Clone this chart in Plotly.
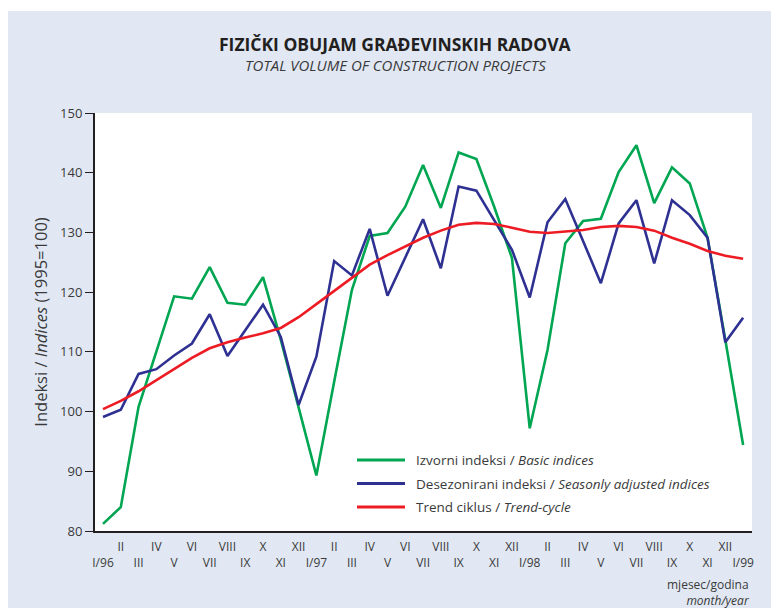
import plotly.graph_objects as go

months = ["I/96", "II", "III", "IV", "V", "VI", "VII", "VIII", "IX", "X", "XI", "XII",
          "I/97", "II", "III", "IV", "V", "VI", "VII", "VIII", "IX", "X", "XI", "XII",
          "I/98", "II", "III", "IV", "V", "VI", "VII", "VIII", "IX", "X", "XI", "XII",
          "I/99"]

basic = [81.2, 84.0, 100.8, 110.0, 119.3, 118.9, 124.2, 118.2, 117.9, 122.5, 112.0, 100.7,
         89.3, 105.0, 120.4, 129.4, 129.9, 134.3, 141.3, 134.1, 143.4, 142.3, 134.3, 125.7,
         97.2, 110.3, 128.2, 131.9, 132.3, 140.1, 144.6, 134.9, 140.9, 138.2, 129.1, 112.0,
         94.4]

adjusted = [99.1, 100.3, 106.3, 107.1, 109.4, 111.4, 116.3, 109.3, 113.6, 117.9, 112.5, 101.1,
            109.2, 125.2, 122.8, 130.6, 119.4, 125.9, 132.2, 124.0, 137.7, 137.0, 132.0, 127.1,
            119.1, 131.7, 135.6, 128.7, 121.5, 131.5, 135.4, 124.8, 135.4, 132.9, 129.1, 111.6,
            115.7]

trend = [100.4, 101.8, 103.4, 105.3, 107.1, 109.0, 110.6, 111.6, 112.4, 113.1, 114.0, 115.8,
         118.0, 120.2, 122.5, 124.6, 126.2, 127.6, 129.1, 130.3, 131.3, 131.6, 131.4, 130.8,
         130.1, 129.9, 130.1, 130.4, 130.9, 131.1, 130.9, 130.3, 129.1, 128.1, 126.9, 126.1,
         125.6]

y_ticks = [80, 90, 100, 110, 120, 130, 140, 150]

series_names = ["Izvorni indeksi / <i>Basic indices</i>",
                "Desezonirani indeksi / <i>Seasonly adjusted indices</i>",
                "Trend ciklus / <i>Trend-cycle</i>"]
series_colors = ["#00A651", "#2E3192", "#ED1C24"]

FONT = "Open Sans"
TXT = "#3a3a3a"
BG = "#E1E8F4"

x_idx = list(range(len(months)))
# alternate labels between two rows
tick_text = [("<br>" + m) if i % 2 == 0 else m for i, m in enumerate(months)]

fig = go.Figure()
for vals, name, col in zip([basic, adjusted, trend], series_names, series_colors):
    fig.add_trace(go.Scatter(x=x_idx, y=vals, mode="lines", name=name,
                             line=dict(color=col, width=2.6), showlegend=False))

PW, PH = 657, 418  # plot area size in px

fig.update_layout(
    width=779, height=608,
    margin=dict(l=87, r=35, t=105, b=85),
    paper_bgcolor=BG,
    plot_bgcolor="white",
    showlegend=False,
    font=dict(family=FONT, color=TXT),
)

fig.update_xaxes(
    range=[-0.45, 36.5],
    tickmode="array", tickvals=x_idx, ticktext=tick_text, tickangle=0,
    ticks="", showline=True, linecolor="#231F20", linewidth=2,
    showgrid=False, zeroline=False,
    tickfont=dict(family=FONT, size=12, color=TXT),
    ticklabelstandoff=4,
)
fig.update_yaxes(
    range=[80, 150],
    tickmode="array", tickvals=y_ticks,
    ticks="outside", ticklen=8, tickwidth=1, tickcolor="#231F20",
    showline=True, linecolor="#231F20", linewidth=2,
    showgrid=False, zeroline=False,
    tickfont=dict(family=FONT, size=13, color=TXT),
    title=dict(text="Indeksi / <i>Indices</i> (1995=100)",
               font=dict(family=FONT, size=16.5, color=TXT), standoff=8),
)

# thin white strip at top of page
fig.add_shape(type="rect", xref="paper", yref="paper",
              x0=-0.2, x1=1.1, y0=1.244, y1=1.27,
              fillcolor="white", line_width=0, layer="below")

# manual legend
leg_y = [(531 - 460) / PH, (531 - 483.5) / PH, (531 - 507) / PH]
for yy, name, col in zip(leg_y, series_names, series_colors):
    fig.add_shape(type="line", xref="paper", yref="paper",
                  x0=(357 - 95) / PW, x1=(405 - 95) / PW, y0=yy, y1=yy,
                  line=dict(color=col, width=3))
    fig.add_annotation(text=name, xref="paper", yref="paper",
                       x=(414 - 95) / PW, y=yy, xanchor="left", yanchor="middle",
                       showarrow=False, font=dict(family=FONT, size=13.5, color=TXT))

fig.add_annotation(text="<b>FIZIČKI OBUJAM GRAĐEVINSKIH RADOVA</b>",
                   xref="paper", yref="paper", x=(395 - 95) / PW, y=(531 - 44) / PH,
                   xanchor="center", yanchor="middle", showarrow=False,
                   font=dict(family=FONT, size=17.5, color="#231F20"))
fig.add_annotation(text="<i>TOTAL VOLUME OF CONSTRUCTION PROJECTS</i>",
                   xref="paper", yref="paper", x=(395 - 95) / PW, y=(531 - 65) / PH,
                   xanchor="center", yanchor="middle", showarrow=False,
                   font=dict(family=FONT, size=15, color=TXT))
fig.add_annotation(text="mjesec/godina<br><i>month/year</i>",
                   xref="paper", yref="paper", x=1.0, y=(531 - 592) / PH,
                   xanchor="right", yanchor="middle", align="right", showarrow=False,
                   font=dict(family=FONT, size=12, color=TXT))

fig.write_html("out.html")
